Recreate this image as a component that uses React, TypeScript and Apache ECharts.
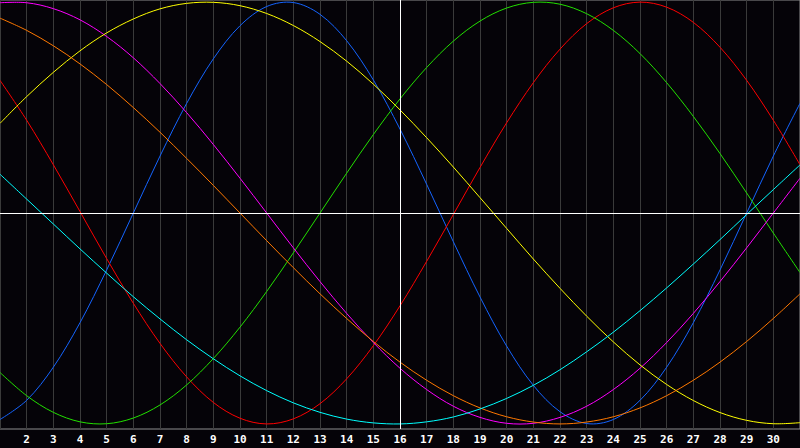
import React, { useEffect, useRef } from "react";
import * as echarts from "echarts";

// Days of the month (x categories); labels shown for 2..30
const days: string[] = Array.from({ length: 31 }, (_, i) => String(i + 1));

// Values in percent (-100..100), one per day
const red: number[] = [62.9, 44.0, 22.9, 0.7, -21.6, -42.8, -61.8, -77.7, -89.8, -97.3, -100.0, -97.6, -90.4, -78.6, -62.9, -44.0, -22.9, -0.7, 21.6, 42.8, 61.8, 77.7, 89.8, 97.3, 100.0, 97.6, 90.4, 78.6, 62.9, 44.0, 22.9];
const blue: number[] = [-97.9, -88.8, -73.1, -52.0, -27.0, 0, 27.0, 52.0, 73.1, 88.8, 97.9, 99.8, 94.2, 81.7, 63.1, 39.8, 13.6, -13.6, -39.8, -63.1, -81.7, -94.2, -99.8, -97.9, -88.8, -73.1, -52.0, -27.0, 0, 27.0, 52.0];
const green: number[] = [-75.6, -86.6, -94.5, -99.0, -99.9, -97.2, -91.0, -81.5, -69.0, -54.1, -37.2, -18.9, 0, 18.9, 37.2, 54.1, 69.0, 81.5, 91.0, 97.2, 99.9, 99.0, 94.5, 86.6, 75.6, 61.8, 45.8, 28.2, 9.5, -9.5, -28.2];
const yellow: number[] = [42.5, 55.2, 66.7, 76.9, 85.4, 92.0, 96.8, 99.4, 99.9, 98.3, 94.6, 88.9, 81.3, 72.0, 61.1, 48.9, 35.7, 21.8, 7.3, -7.3, -21.8, -35.7, -48.9, -61.1, -72.0, -81.3, -88.9, -94.6, -98.3, -99.9, -99.4];
const magenta: number[] = [99.7, 99.7, 96.9, 91.6, 83.7, 73.6, 61.4, 47.6, 32.5, 16.5, 0, -16.5, -32.5, -47.6, -61.4, -73.6, -83.7, -91.6, -96.9, -99.7, -99.7, -96.9, -91.6, -83.7, -73.6, -61.4, -47.6, -32.5, -16.5, 0, 16.5];
const orange: number[] = [92.4, 86.6, 79.3, 70.7, 60.9, 50.0, 38.3, 25.9, 13.1, 0, -13.1, -25.9, -38.3, -50.0, -60.9, -70.7, -79.3, -86.6, -92.4, -96.6, -99.1, -100.0, -99.1, -96.6, -92.4, -86.6, -79.3, -70.7, -60.9, -50.0, -38.3];
const cyan: number[] = [18.4, 6.6, -5.2, -17.0, -28.5, -39.7, -50.2, -60.1, -69.1, -77.2, -84.2, -90.0, -94.5, -97.7, -99.5, -100.0, -99.0, -96.7, -92.9, -87.9, -81.7, -74.3, -65.8, -56.5, -46.3, -35.5, -24.2, -12.6, -0.7, 11.1, 22.8];

const seriesDefs: { name: string; color: string; data: number[] }[] = [
  { name: "Physical", color: "#1464ff", data: blue },
  { name: "Emotional", color: "#ff0000", data: red },
  { name: "Intellectual", color: "#22e000", data: green },
  { name: "Intuitive", color: "#ff00ff", data: magenta },
  { name: "Aesthetic", color: "#ffff00", data: yellow },
  { name: "Awareness", color: "#ff7800", data: orange },
  { name: "Spiritual", color: "#00ffff", data: cyan },
];

const todayDay = "16";

export default function App() {
  const ref = useRef<HTMLDivElement>(null);
  useEffect(() => {
    if (!ref.current) return;
    const chart = echarts.init(ref.current, undefined, { renderer: "svg" });
    const lastIdx = days.length - 1;
    chart.setOption({
      animation: false,
      backgroundColor: "#050308",
      grid: {
        show: true,
        left: 0,
        right: -1,
        top: 0,
        bottom: 19,
        borderColor: "#8e8e8e",
        borderWidth: 1,
        backgroundColor: "#050308",
      },
      xAxis: {
        type: "category",
        data: days,
        boundaryGap: false,
        axisLine: { show: false },
        axisTick: { show: false },
        splitLine: { show: true, interval: 0, lineStyle: { color: "#3a3a3a", width: 1 } },
        axisLabel: {
          interval: (index: number) => index !== 0 && index !== lastIdx,
          color: "#ffffff",
          fontFamily: "DejaVu Sans Mono",
          fontWeight: "bold",
          fontSize: 11,
          margin: 5,
        },
      },
      yAxis: {
        type: "value",
        min: -102.4,
        max: 101,
        axisLine: { show: false },
        axisTick: { show: false },
        axisLabel: { show: false },
        splitLine: { show: false },
      },
      series: [
        {
          name: "guides",
          type: "line",
          data: [],
          z: 1,
          silent: true,
          markLine: {
            silent: true,
            symbol: "none",
            label: { show: false },
            lineStyle: { color: "#ffffff", width: 1, type: "solid" },
            data: [{ yAxis: 0 }, { xAxis: todayDay }],
          },
        },
        ...seriesDefs.map((s) => ({
          name: s.name,
          type: "custom",
          z: 3,
          silent: true,
          data: s.data.map((v, i) => [i, v]),
          encode: { x: 0, y: 1 },
          renderItem: (params: any, api: any) => {
            if (params.dataIndex !== 0) return null;
            const pts = s.data.map((v, i) => api.coord([i, v]));
            return {
              type: "polyline",
              shape: { points: pts, smooth: 0.34 },
              style: { stroke: s.color, fill: "none", lineWidth: 1 },
            };
          },
        })),
      ],
    });
    return () => chart.dispose();
  }, []);
  return (
    <div
      ref={ref}
      style={{ position: "fixed", left: 0, top: 0, width: 800, height: 448, background: "#050308" }}
    />
  );
}
